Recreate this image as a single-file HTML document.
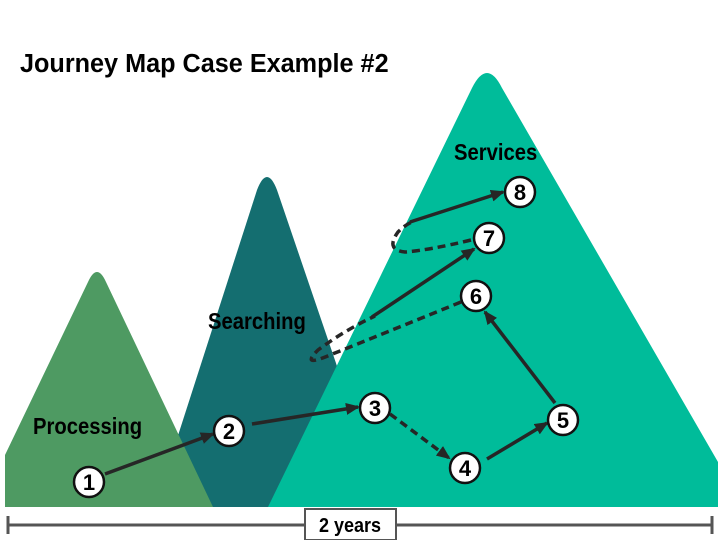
<!DOCTYPE html>
<html><head><style>
body{margin:0;width:720px;height:540px;background:#fff;overflow:hidden}
svg{display:block}
text{font-family:"Liberation Sans",sans-serif;font-weight:bold}
</style></head><body>
<svg width="720" height="540" viewBox="0 0 720 540">
<defs>
<marker id="b" markerWidth="14" markerHeight="12" refX="12" refY="6" orient="auto" markerUnits="userSpaceOnUse"><path d="M0,0 L14,6 L0,12z" fill="#262626"/></marker>
</defs>
<path d="M155,507 L257,190 Q267,164 277,190 L385,507z" fill="#146e70"/>
<path d="M5,507 L5,455 L88,282 Q97,262 106,282 L213,507z" fill="#4e9a62"/>
<path d="M268,507 L472,88 Q487,58 502,88 L718,462 L718,507z" fill="#00bc9a"/>
<text x="20" y="72" font-size="26" transform="translate(20 0) scale(0.97 1) translate(-20 0)">Journey Map Case Example #2</text>
<text x="454" y="160" font-size="23" transform="translate(454 0) scale(0.88 1) translate(-454 0)">Services</text>
<text x="208" y="329" font-size="23" transform="translate(208 0) scale(0.88 1) translate(-208 0)">Searching</text>
<text x="33" y="434" font-size="23" transform="translate(33 0) scale(0.88 1) translate(-33 0)">Processing</text>
<g stroke="#262626" stroke-width="3.5" fill="none">
<line x1="105" y1="474" x2="213" y2="434" marker-end="url(#b)"/>
<line x1="252" y1="424" x2="358" y2="407" marker-end="url(#b)"/>
<line x1="390" y1="414" x2="449" y2="458" stroke-dasharray="8,5" marker-end="url(#b)"/>
<line x1="487" y1="459" x2="547" y2="423" marker-end="url(#b)"/>
<line x1="555" y1="403" x2="485" y2="312" marker-end="url(#b)"/>
<path d="M461,302 Q380,335 330,355 Q300,368 318,350 Q345,330 375,316" stroke-dasharray="8,5"/>
<line x1="372" y1="317" x2="474" y2="249" marker-end="url(#b)"/>
<path d="M471,240 Q430,250 405,252 Q385,250 398,232 Q405,225 412,222" stroke-dasharray="8,5"/>
<line x1="410" y1="222" x2="503" y2="192" marker-end="url(#b)"/>
</g>
<g stroke="#111" stroke-width="2.5" fill="#fff">
<circle cx="89" cy="482" r="15"/><circle cx="229" cy="431" r="15"/><circle cx="375" cy="408" r="15"/>
<circle cx="465" cy="468" r="15"/><circle cx="563" cy="420" r="15"/><circle cx="476" cy="296" r="15"/>
<circle cx="489" cy="238" r="15"/><circle cx="520" cy="192" r="15"/>
</g>
<g font-size="22" text-anchor="middle" fill="#000">
<text x="89" y="490">1</text><text x="229" y="439">2</text><text x="375" y="416">3</text>
<text x="465" y="476">4</text><text x="563" y="428">5</text><text x="476" y="304">6</text>
<text x="489" y="246">7</text><text x="520" y="200">8</text>
</g>
<g stroke="#555" stroke-width="3">
<line x1="8" y1="525" x2="712" y2="525"/>
<line x1="8" y1="516" x2="8" y2="534"/><line x1="712" y1="516" x2="712" y2="534"/>
</g>
<rect x="305" y="509" width="91" height="31" fill="#fff" stroke="#555" stroke-width="2"/>
<text x="350" y="532" font-size="20" text-anchor="middle" transform="translate(350 0) scale(0.9 1) translate(-350 0)">2 years</text>
</svg>
</body></html>
